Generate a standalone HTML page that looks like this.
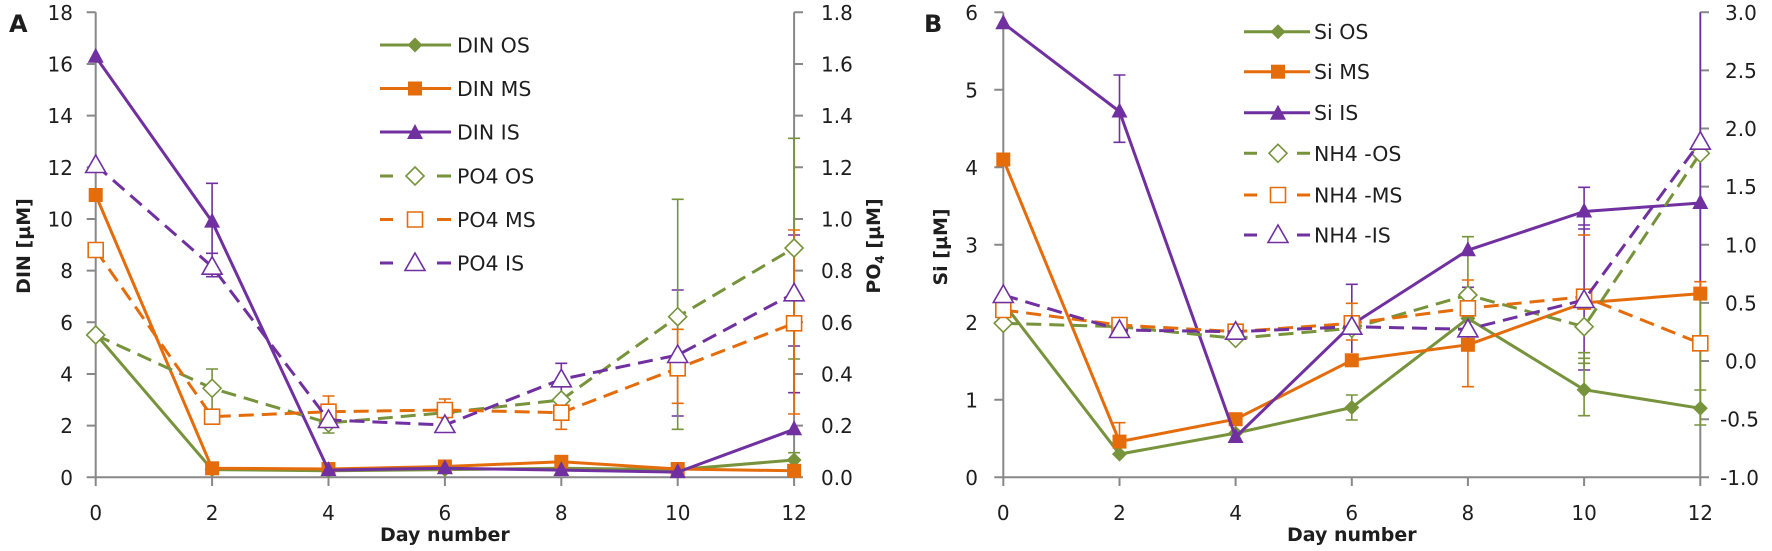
<!DOCTYPE html>
<html>
<head>
<meta charset="utf-8">
<style>
html,body{margin:0;padding:0;background:#fff;}
svg{display:block;}
text{font-family:"DejaVu Sans","Liberation Sans",sans-serif;fill:#1e1e1e;}
.t{font-size:20px;}
.lg{font-size:20.5px;}
.b{font-weight:bold;font-size:19px;}
.ax{stroke:#888;stroke-width:2;fill:none;}
.g{stroke:#77933C;}
.o{stroke:#E46C0A;}
.p{stroke:#7030A0;}
.ln{fill:none;stroke-width:3;stroke-linejoin:round;}
.ds{stroke-dasharray:15 8;}
.eb{fill:none;stroke-width:1.6;}
</style>
</head>
<body>
<svg width="1772" height="551" viewBox="0 0 1772 551" xmlns="http://www.w3.org/2000/svg">
<defs>
  <path id="fd" d="M0,-7.5 L7.5,0 L0,7.5 L-7.5,0Z"/>
  <path id="fs" d="M-7,-7 H7 V7 H-7Z"/>
  <path id="ft" d="M0,-9 L8,6 L-8,6Z"/>
  <path id="od" d="M0,-9 L9,0 L0,9 L-9,0Z"/>
  <path id="os" d="M-7.5,-7.5 H7.5 V7.5 H-7.5Z"/>
  <path id="ot" d="M0,-10 L10,7.5 L-10,7.5Z"/>
</defs>

<!-- ================= PANEL A ================= -->
<text x="9" y="32" style="font-size:24px;font-weight:bold;">A</text>
<!-- axes -->
<path class="ax" d="M95.7,12.3 V477.3 H794.1 V12.3"/>
<path class="ax" d="M86.7,12.3H95.7 M86.7,64H95.7 M86.7,115.6H95.7 M86.7,167.3H95.7 M86.7,219H95.7 M86.7,270.6H95.7 M86.7,322.3H95.7 M86.7,374H95.7 M86.7,425.6H95.7 M86.7,477.3H95.7"/>
<path class="ax" d="M794.1,12.3H803 M794.1,64H803 M794.1,115.6H803 M794.1,167.3H803 M794.1,219H803 M794.1,270.6H803 M794.1,322.3H803 M794.1,374H803 M794.1,425.6H803 M794.1,477.3H803"/>
<path class="ax" d="M95.7,477.3V486 M212.1,477.3V486 M328.5,477.3V486 M444.9,477.3V486 M561.3,477.3V486 M677.7,477.3V486 M794.1,477.3V486"/>
<g class="t" text-anchor="end">
<text x="73" y="19.8">18</text><text x="73" y="71.5">16</text><text x="73" y="123.1">14</text>
<text x="73" y="174.8">12</text><text x="73" y="226.5">10</text><text x="73" y="278.1">8</text>
<text x="73" y="329.8">6</text><text x="73" y="381.5">4</text><text x="73" y="433.1">2</text><text x="73" y="484.8">0</text>
</g>
<g class="t">
<text x="821" y="19.8">1.8</text><text x="821" y="71.5">1.6</text><text x="821" y="123.1">1.4</text>
<text x="821" y="174.8">1.2</text><text x="821" y="226.5">1.0</text><text x="821" y="278.1">0.8</text>
<text x="821" y="329.8">0.6</text><text x="821" y="381.5">0.4</text><text x="821" y="433.1">0.2</text><text x="821" y="484.8">0.0</text>
</g>
<g class="t" text-anchor="middle">
<text x="95.7" y="520">0</text><text x="212.1" y="520">2</text><text x="328.5" y="520">4</text>
<text x="444.9" y="520">6</text><text x="561.3" y="520">8</text><text x="677.7" y="520">10</text><text x="794.1" y="520">12</text>
</g>
<text class="b" x="444.9" y="541" text-anchor="middle">Day number</text>
<text class="b" transform="translate(30,246) rotate(-90)" text-anchor="middle">DIN [µM]</text>
<text class="b" transform="translate(880,246) rotate(-90)" text-anchor="middle">PO<tspan style="font-size:12px" dy="4">4</tspan><tspan dy="-4"> [µM]</tspan></text>

<!-- error bars A -->
<g class="eb p">
<path d="M212.1,183.3V276.7 M206,183.3h12 M206,253.3h12 M206,276.7h12"/>
<path d="M561.3,363.3V400 M555.3,363.3h12"/>
<path d="M677.7,290V416 M671.7,290h12 M671.7,416h12"/>
<path d="M794.1,235V392.7 M788.1,235h12 M788.1,392.7h12 M788.1,346h12"/>
</g>
<g class="eb g">
<path d="M212.1,369V410 M206,369h12"/>
<path d="M328.5,423V433 M322.5,433h12"/>
<path d="M677.7,199.3V429.3 M671.7,199.3h12 M671.7,429.3h12"/>
<path d="M794.1,138.3V359 M788.1,138.3h12 M788.1,359h12"/>
<path d="M794.1,452.7V460 M788.1,452.7h12"/>
</g>
<g class="eb o">
<path d="M328.5,396V412 M322.5,396h12"/>
<path d="M444.9,399V410 M438.9,399h12"/>
<path d="M561.3,412.7V429.3 M555.3,429.3h12"/>
<path d="M677.7,329.3V403.3 M671.7,329.3h12 M671.7,403.3h12"/>
<path d="M794.1,230V414 M788.1,230h12 M788.1,414h12"/>
</g>

<!-- series A -->
<polyline class="ln g" points="95.7,333.9 212.1,469.6 328.5,470.8 444.9,469.6 561.3,468.3 677.7,469.6 794.1,460"/>
<g fill="#77933C"><use href="#fd" x="95.7" y="333.9"/><use href="#fd" x="212.1" y="469.6"/><use href="#fd" x="328.5" y="470.8"/><use href="#fd" x="444.9" y="469.6"/><use href="#fd" x="561.3" y="468.3"/><use href="#fd" x="677.7" y="469.6"/><use href="#fd" x="794.1" y="460"/></g>
<polyline class="ln o" points="95.7,195 212.1,468.3 328.5,469 444.9,466.5 561.3,461.8 677.7,469 794.1,470.8"/>
<g fill="#E46C0A"><use href="#fs" x="95.7" y="195"/><use href="#fs" x="212.1" y="468.3"/><use href="#fs" x="328.5" y="469"/><use href="#fs" x="444.9" y="466.5"/><use href="#fs" x="561.3" y="461.8"/><use href="#fs" x="677.7" y="469"/><use href="#fs" x="794.1" y="470.8"/></g>
<polyline class="ln p" points="95.7,56.8 212.1,221.6 328.5,470.1 444.9,468.3 561.3,470.1 677.7,472.1 794.1,429.3"/>
<g fill="#7030A0"><use href="#ft" x="95.7" y="56.8"/><use href="#ft" x="212.1" y="221.6"/><use href="#ft" x="328.5" y="470.1"/><use href="#ft" x="444.9" y="468.3"/><use href="#ft" x="561.3" y="470.1"/><use href="#ft" x="677.7" y="472.1"/><use href="#ft" x="794.1" y="429.3"/></g>

<polyline class="ln ds g" points="95.7,335 212.1,388.3 328.5,423 444.9,412.7 561.3,400 677.7,316.7 794.1,248"/>
<g fill="#fff" stroke="#77933C" stroke-width="1.6"><use href="#od" x="95.7" y="335"/><use href="#od" x="212.1" y="388.3"/><use href="#od" x="328.5" y="423"/><use href="#od" x="444.9" y="412.7"/><use href="#od" x="561.3" y="400"/><use href="#od" x="677.7" y="316.7"/><use href="#od" x="794.1" y="248"/></g>
<polyline class="ln ds o" points="95.7,250 212.1,416.7 328.5,411.7 444.9,410 561.3,412.7 677.7,368.3 794.1,323.3"/>
<g fill="#fff" stroke="#E46C0A" stroke-width="1.6"><use href="#os" x="95.7" y="250"/><use href="#os" x="212.1" y="416.7"/><use href="#os" x="328.5" y="411.7"/><use href="#os" x="444.9" y="410"/><use href="#os" x="561.3" y="412.7"/><use href="#os" x="677.7" y="368.3"/><use href="#os" x="794.1" y="323.3"/></g>
<polyline class="ln ds p" points="95.7,165 212.1,266.7 328.5,420 444.9,425 561.3,379.3 677.7,355 794.1,293.3"/>
<g fill="#fff" stroke="#7030A0" stroke-width="1.6"><use href="#ot" x="95.7" y="165"/><use href="#ot" x="212.1" y="266.7"/><use href="#ot" x="328.5" y="420"/><use href="#ot" x="444.9" y="425"/><use href="#ot" x="561.3" y="379.3"/><use href="#ot" x="677.7" y="355"/><use href="#ot" x="794.1" y="293.3"/></g>

<!-- legend A -->
<path class="ln g" d="M380,45H451"/><use href="#fd" x="415" y="45" fill="#77933C"/>
<path class="ln o" d="M380,88.5H451"/><use href="#fs" x="415" y="88.5" fill="#E46C0A"/>
<path class="ln p" d="M380,132H451"/><use href="#ft" x="415" y="133" fill="#7030A0"/>
<path class="ln g" d="M380,176H393 M437,176H451"/><use href="#od" x="415" y="176" fill="#fff" stroke="#77933C" stroke-width="1.6"/>
<path class="ln o" d="M380,219.5H393 M437,219.5H451"/><use href="#os" x="415" y="219.5" fill="#fff" stroke="#E46C0A" stroke-width="1.6"/>
<path class="ln p" d="M380,263H393 M437,263H451"/><use href="#ot" x="415" y="263" fill="#fff" stroke="#7030A0" stroke-width="1.6"/>
<g class="lg">
<text x="457" y="52.5">DIN OS</text><text x="457" y="96">DIN MS</text><text x="457" y="139.5">DIN IS</text>
<text x="457" y="183.5">PO4 OS</text><text x="457" y="227">PO4 MS</text><text x="457" y="270.5">PO4 IS</text>
</g>

<!-- ================= PANEL B ================= -->
<text x="924" y="32" style="font-size:24px;font-weight:bold;">B</text>
<path class="ax" d="M1003.3,12.3 V477.3 H1700.3 V12.3"/>
<path class="ax" d="M994.3,12.3H1003.3 M994.3,89.8H1003.3 M994.3,167.3H1003.3 M994.3,244.8H1003.3 M994.3,322.3H1003.3 M994.3,399.8H1003.3 M994.3,477.3H1003.3"/>
<path class="ax" d="M1700.3,12.3H1709 M1700.3,70.4H1709 M1700.3,128.5H1709 M1700.3,186.6H1709 M1700.3,244.8H1709 M1700.3,302.9H1709 M1700.3,361H1709 M1700.3,419.2H1709 M1700.3,477.3H1709"/>
<path class="ax" d="M1003.3,477.3V486 M1119.5,477.3V486 M1235.6,477.3V486 M1351.8,477.3V486 M1467.9,477.3V486 M1584.1,477.3V486 M1700.3,477.3V486"/>
<g class="t" text-anchor="end">
<text x="978" y="19.8">6</text><text x="978" y="97.3">5</text><text x="978" y="174.8">4</text>
<text x="978" y="252.3">3</text><text x="978" y="329.8">2</text><text x="978" y="407.3">1</text><text x="978" y="484.8">0</text>
</g>
<g class="t">
<text x="1725" y="19.8">3.0</text><text x="1725" y="77.9">2.5</text><text x="1725" y="136">2.0</text>
<text x="1725" y="194.1">1.5</text><text x="1725" y="252.3">1.0</text><text x="1725" y="310.4">0.5</text>
<text x="1725" y="368.5">0.0</text><text x="1720" y="426.7">-0.5</text><text x="1720" y="484.8">-1.0</text>
</g>
<g class="t" text-anchor="middle">
<text x="1003.3" y="520">0</text><text x="1119.5" y="520">2</text><text x="1235.6" y="520">4</text>
<text x="1351.8" y="520">6</text><text x="1467.9" y="520">8</text><text x="1584.1" y="520">10</text><text x="1700.3" y="520">12</text>
</g>
<text class="b" x="1351.8" y="541" text-anchor="middle">Day number</text>
<text class="b" transform="translate(947,247) rotate(-90)" text-anchor="middle">Si [µM]</text>

<!-- error bars B -->
<g class="eb p">
<path d="M1119.5,75V142.3 M1113.5,75h12 M1113.5,142.3h12"/>
<path d="M1351.8,284.3V353 M1345.8,284.3h12"/>
<path d="M1467.9,287.3V329.3 M1461.9,287.3h12"/>
<path d="M1584.1,187.3V370 M1578.1,187.3h12 M1578.1,225h12 M1578.1,229h12 M1578.1,370h12"/>
<path d="M1700.3,12.3V283"/>
</g>
<g class="eb g">
<path d="M1351.8,395V420 M1345.8,395h12 M1345.8,420h12"/>
<path d="M1467.9,236.7V348 M1461.9,236.7h12 M1461.9,348h12"/>
<path d="M1584.1,352.7V415.7 M1578.1,352.7h12 M1578.1,358.3h12 M1578.1,363.3h12 M1578.1,415.7h12"/>
<path d="M1700.3,283V425 M1694.3,390h12 M1694.3,425h12"/>
</g>
<g class="eb o">
<path d="M1119.5,422.7V441.6 M1113.5,422.7h12"/>
<path d="M1119.5,318.3V325 M1113.5,318.3h12"/>
<path d="M1351.8,303.3V340 M1345.8,303.3h12 M1345.8,340h12"/>
<path d="M1467.9,280V386.7 M1461.9,280h12 M1461.9,386.7h12"/>
<path d="M1578.1,235h12"/>
<path d="M1700.3,281.7V293.6 M1694.3,281.7h12"/>
</g>

<!-- series B -->
<polyline class="ln g" points="1003.3,302.9 1119.5,454.1 1235.6,433.1 1351.8,407.5 1467.9,318.4 1584.1,389.7 1700.3,408.3"/>
<g fill="#77933C"><use href="#fd" x="1003.3" y="302.9"/><use href="#fd" x="1119.5" y="454.1"/><use href="#fd" x="1235.6" y="433.1"/><use href="#fd" x="1351.8" y="407.5"/><use href="#fd" x="1467.9" y="318.4"/><use href="#fd" x="1584.1" y="389.7"/><use href="#fd" x="1700.3" y="408.3"/></g>
<polyline class="ln o" points="1003.3,159.5 1119.5,441.6 1235.6,419.2 1351.8,360.3 1467.9,344.8 1584.1,302.9 1700.3,293.6"/>
<g fill="#E46C0A"><use href="#fs" x="1003.3" y="159.5"/><use href="#fs" x="1119.5" y="441.6"/><use href="#fs" x="1235.6" y="419.2"/><use href="#fs" x="1351.8" y="360.3"/><use href="#fs" x="1467.9" y="344.8"/><use href="#fs" x="1584.1" y="302.9"/><use href="#fs" x="1700.3" y="293.6"/></g>
<polyline class="ln p" points="1003.3,23.2 1119.5,111.5 1235.6,437 1351.8,324.6 1467.9,250.2 1584.1,211.5 1700.3,203"/>
<g fill="#7030A0"><use href="#ft" x="1003.3" y="23.2"/><use href="#ft" x="1119.5" y="111.5"/><use href="#ft" x="1235.6" y="437"/><use href="#ft" x="1351.8" y="324.6"/><use href="#ft" x="1467.9" y="250.2"/><use href="#ft" x="1584.1" y="211.5"/><use href="#ft" x="1700.3" y="203"/></g>

<polyline class="ln ds g" points="1003.3,323.3 1119.5,326.7 1235.6,338.3 1351.8,328.3 1467.9,295 1584.1,326.7 1700.3,153.3"/>
<g fill="#fff" stroke="#77933C" stroke-width="1.6"><use href="#od" x="1003.3" y="323.3"/><use href="#od" x="1119.5" y="326.7"/><use href="#od" x="1235.6" y="338.3"/><use href="#od" x="1351.8" y="328.3"/><use href="#od" x="1467.9" y="295"/><use href="#od" x="1584.1" y="326.7"/><use href="#od" x="1700.3" y="153.3"/></g>
<polyline class="ln ds o" points="1003.3,310 1119.5,325 1235.6,331.7 1351.8,323.3 1467.9,308.3 1584.1,296.7 1700.3,343.3"/>
<g fill="#fff" stroke="#E46C0A" stroke-width="1.6"><use href="#os" x="1003.3" y="310"/><use href="#os" x="1119.5" y="325"/><use href="#os" x="1235.6" y="331.7"/><use href="#os" x="1351.8" y="323.3"/><use href="#os" x="1467.9" y="308.3"/><use href="#os" x="1584.1" y="296.7"/><use href="#os" x="1700.3" y="343.3"/></g>
<polyline class="ln ds p" points="1003.3,295 1119.5,330 1235.6,331.7 1351.8,326.7 1467.9,329.3 1584.1,300 1700.3,141.7"/>
<g fill="#fff" stroke="#7030A0" stroke-width="1.6"><use href="#ot" x="1003.3" y="295"/><use href="#ot" x="1119.5" y="330"/><use href="#ot" x="1235.6" y="331.7"/><use href="#ot" x="1351.8" y="326.7"/><use href="#ot" x="1467.9" y="329.3"/><use href="#ot" x="1584.1" y="300"/><use href="#ot" x="1700.3" y="141.7"/></g>

<!-- legend B -->
<path class="ln g" d="M1244,31.7H1310"/><use href="#fd" x="1278" y="31.7" fill="#77933C"/>
<path class="ln o" d="M1244,71.7H1310"/><use href="#fs" x="1278" y="71.7" fill="#E46C0A"/>
<path class="ln p" d="M1244,112.7H1310"/><use href="#ft" x="1278" y="113.7" fill="#7030A0"/>
<path class="ln g" d="M1244,153.3H1257 M1297,153.3H1310"/><use href="#od" x="1278" y="153.3" fill="#fff" stroke="#77933C" stroke-width="1.6"/>
<path class="ln o" d="M1244,195H1257 M1297,195H1310"/><use href="#os" x="1278" y="195" fill="#fff" stroke="#E46C0A" stroke-width="1.6"/>
<path class="ln p" d="M1244,235H1257 M1297,235H1310"/><use href="#ot" x="1278" y="235" fill="#fff" stroke="#7030A0" stroke-width="1.6"/>
<g class="lg">
<text x="1314" y="39.2">Si OS</text><text x="1314" y="79.2">Si MS</text><text x="1314" y="120.2">Si IS</text>
<text x="1314" y="160.8">NH4 -OS</text><text x="1314" y="202.5">NH4 -MS</text><text x="1314" y="242.5">NH4 -IS</text>
</g>
</svg>
</body>
</html>
